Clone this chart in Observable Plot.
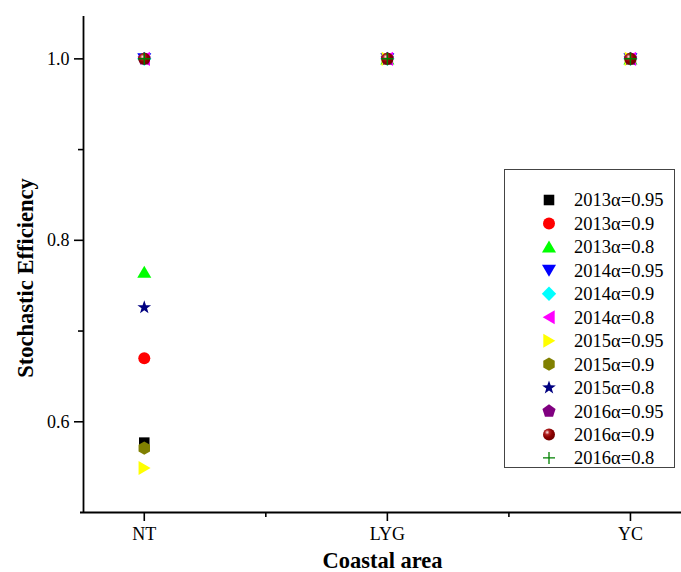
<!DOCTYPE html>
<html><head><meta charset="utf-8">
<script src="https://cdn.jsdelivr.net/npm/d3@7"></script>
<script src="https://cdn.jsdelivr.net/npm/@observablehq/plot@0.6"></script>
<style>body{margin:0;background:#fff}</style>
</head><body><div id="chart"></div>
<script>
// ---- data ----
const areas = ["NT", "LYG", "YC"];
const seriesNames = ["2013α=0.95","2013α=0.9","2013α=0.8","2014α=0.95","2014α=0.9","2014α=0.8",
                     "2015α=0.95","2015α=0.9","2015α=0.8","2016α=0.95","2016α=0.9","2016α=0.8"];
const seriesValues = [
  [0.577, 1.0, 1.0],
  [0.670, 1.0, 1.0],
  [0.765, 1.0, 1.0],
  [1.0, 1.0, 1.0],
  [1.0, 1.0, 1.0],
  [1.0, 1.0, 1.0],
  [0.549, 1.0, 1.0],
  [0.571, 1.0, 1.0],
  [0.726, 1.0, 1.0],
  [1.0, 1.0, 1.0],
  [1.0, 1.0, 1.0],
  [1.0, 1.0, 1.0]
];
const seriesColors = ["#000000","#ff0000","#00ff00","#0000ff","#00ffff","#ff00ff",
                      "#ffff00","#808000","#000080","#800080","url(#sphere)","#008000"];
const seriesShapes = ["square","circle","triUp","triDown","diamond","triLeft",
                      "triRight","hexagon","star","pentagon","circle","plus"];
const yMajorTicks = [0.6, 0.8, 1.0];
const yMinorTicks = [0.7, 0.9];
const xMajorTicks = [0, 1, 2];
const xMinorTicks = [0.5, 1.5];

// ---- symbols ----
function poly(fn) {
  return {draw(ctx, size) {
    const r = Math.sqrt(size / Math.PI);
    const p = fn(r);
    ctx.moveTo(p[0][0], p[0][1]);
    for (let k = 1; k < p.length; k++) ctx.lineTo(p[k][0], p[k][1]);
    ctx.closePath();
  }};
}
function regular(n, scale, rot) {
  return poly(r => d3.range(n).map(k => {
    const a = (rot + 360 * k / n) * Math.PI / 180;
    return [scale * r * Math.cos(a), scale * r * Math.sin(a)];
  }));
}
const symbols = {
  square: poly(r => { const a = 0.88 * r; return [[-a,-a],[a,-a],[a,a],[-a,a]]; }),
  circle: {draw(ctx, size) { const r = Math.sqrt(size / Math.PI); ctx.moveTo(r, 0); ctx.arc(0, 0, r, 0, 2 * Math.PI); }},
  triUp: poly(r => [[0,-1.05*r],[-1.17*r,0.95*r],[1.17*r,0.95*r]]),
  triDown: poly(r => [[0,1.05*r],[-1.17*r,-0.95*r],[1.17*r,-0.95*r]]),
  triLeft: poly(r => [[-1.05*r,0],[0.95*r,-1.17*r],[0.95*r,1.17*r]]),
  triRight: poly(r => [[1.05*r,0],[-0.95*r,-1.17*r],[-0.95*r,1.17*r]]),
  diamond: regular(4, 1.2, -90),
  hexagon: regular(6, 1.1, -90),
  pentagon: regular(5, 1.15, -90),
  star: poly(r => d3.range(10).map(k => {
    const a = (-90 + 36 * k) * Math.PI / 180, R = (k % 2 ? 0.48 : 1.2) * r;
    return [R * Math.cos(a), R * Math.sin(a)];
  })),
  plus: {draw(ctx, size) { const r = Math.sqrt(size / Math.PI); ctx.moveTo(-r, 0); ctx.lineTo(r, 0); ctx.moveTo(0, -r); ctx.lineTo(0, r); }}
};

const font = "'Liberation Serif', 'Times New Roman', serif";

const dotMarks = seriesNames.map((name, s) => {
  const data = areas.map((a, i) => ({i, v: seriesValues[s][i]}));
  const isPlus = seriesShapes[s] === "plus";
  return Plot.dot(data, {
    x: "i", y: "v", r: 6,
    symbol: symbols[seriesShapes[s]],
    fill: isPlus ? "none" : seriesColors[s],
    stroke: isPlus ? seriesColors[s] : "none",
    strokeWidth: isPlus ? 1.5 : 0
  });
});

const chart = Plot.plot({
  width: 681, height: 572,
  marginLeft: 83, marginTop: 13, marginBottom: 60, marginRight: 0,
  x: {type: "linear", domain: [-0.25, 2.21], label: null},
  y: {domain: [0.5, 1.05], label: null},
  style: {fontFamily: font, fontSize: "18px", color: "black", background: "white"},
  marks: [
    Plot.axisY(yMajorTicks, {tickSize: 9, tickPadding: 5, tickFormat: d => d.toFixed(1), strokeWidth: 1.6, fontSize: 18, fontFamily: font, label: null}),
    Plot.axisY(yMinorTicks, {tickSize: 5, tickFormat: () => "", strokeWidth: 1.6, label: null}),
    Plot.axisX(xMajorTicks, {tickSize: 9, tickPadding: 6, tickFormat: i => areas[i], strokeWidth: 1.6, fontSize: 18, fontFamily: font, label: null}),
    Plot.axisX(xMinorTicks, {tickSize: 5, tickFormat: () => "", strokeWidth: 1.6, label: null}),
    Plot.ruleX([-0.25], {strokeWidth: 1.8, y1: 0.5, y2: 1.05, insetBottom: -3}),
    Plot.ruleY([0.5], {strokeWidth: 1.8, insetLeft: -3}),
    Plot.text(["Coastal area"], {frameAnchor: "bottom", dy: 48, fontWeight: "bold", fontSize: 22.5, fontFamily: font, lineAnchor: "middle", textAnchor: "middle"}),
    Plot.text(["Stochastic Efficiency"], {frameAnchor: "left", dx: -58, dy: 15, rotate: -90, fontWeight: "bold", fontSize: 22.5, fontFamily: font, lineAnchor: "middle", textAnchor: "middle"}),
    ...dotMarks
  ]
});

// sphere gradient
const svg = d3.select(chart);
const defs = svg.insert("defs", ":first-child");
const g = defs.append("radialGradient").attr("id", "sphere").attr("cx", "35%").attr("cy", "32%").attr("r", "70%");
g.append("stop").attr("offset", "0%").attr("stop-color", "#ffe8e8");
g.append("stop").attr("offset", "28%").attr("stop-color", "#b02020");
g.append("stop").attr("offset", "60%").attr("stop-color", "#8b0000");
g.append("stop").attr("offset", "100%").attr("stop-color", "#700000");

// legend
const lg = svg.append("g").attr("font-family", font).attr("font-size", 18.5).attr("text-anchor", "start");
lg.append("rect").attr("x", 504.5).attr("y", 169.5).attr("width", 170).attr("height", 298)
  .attr("fill", "white").attr("stroke", "#444").attr("stroke-width", 1);
seriesNames.forEach((name, s) => {
  const y = 200 + s * 23.45;
  const isPlus = seriesShapes[s] === "plus";
  lg.append("path")
    .attr("transform", `translate(549,${y})`)
    .attr("d", d3.symbol(symbols[seriesShapes[s]], Math.PI * 36)())
    .attr("fill", isPlus ? "none" : seriesColors[s])
    .attr("stroke", isPlus ? seriesColors[s] : "none")
    .attr("stroke-width", isPlus ? 1.3 : 0);
  lg.append("text").attr("x", 574).attr("y", y).attr("dy", "0.35em").attr("text-anchor", "start").attr("fill", "black").text(name);
});

document.getElementById("chart").append(chart);
</script>
</body></html>
